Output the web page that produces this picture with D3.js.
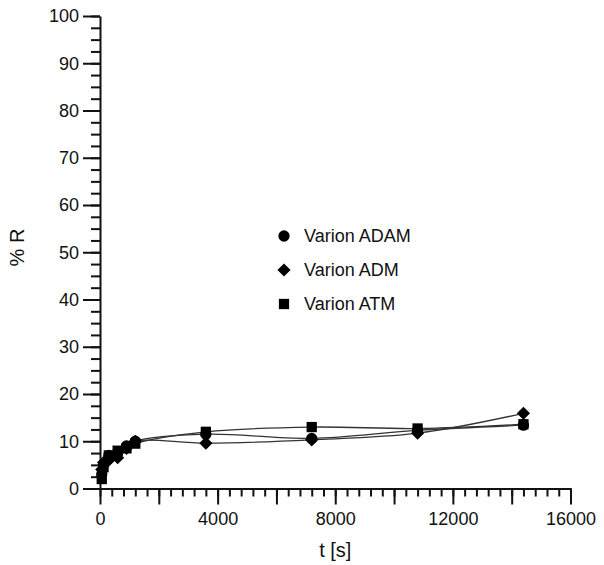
<!DOCTYPE html>
<html>
<head>
<meta charset="utf-8">
<script src="https://cdn.jsdelivr.net/npm/d3@7"></script>
<style>
  body { margin: 0; background: #fff; }
  svg { font-family: "Liberation Sans", Arial, sans-serif; }
</style>
</head>
<body>
<div id="chart"></div>
<script>
// data
const times = [60, 120, 300, 600, 900, 1200, 3600, 7200, 10800, 14400];
const adam = [3.0, 5.0, 7.0, 7.5, 9.0, 10.0, 11.5, 10.6, 12.3, 13.4];
const adm = [4.0, 5.5, 6.0, 6.5, 8.5, 10.0, 9.6, 10.3, 11.7, 15.9];
const atm = [2.0, 4.5, 7.0, 8.0, 8.5, 9.5, 12.0, 13.0, 12.7, 13.6];
const seriesNames = ["Varion ADAM", "Varion ADM", "Varion ATM"];
const xLabelTicks = [0, 4000, 8000, 12000, 16000];
const yLabelTicks = [0, 10, 20, 30, 40, 50, 60, 70, 80, 90, 100];

const width = 604, height = 565;

const svg = d3.select("#chart")
    .append("svg")
    .attr("width", width)
    .attr("height", height);

const x = d3.scaleLinear().domain([0, 16000]).range([100, 570.5]);
const y = d3.scaleLinear().domain([0, 100]).range([488.5, 16]);

// X axis: minor ticks every 400, major every 2000, labels every 4000
svg.append("g")
    .attr("transform", `translate(0,${y(0)})`)
    .call(d3.axisBottom(x).tickValues(d3.range(0, 16001, 400)).tickSize(8).tickFormat(""))
    .call(g => g.select(".domain").remove());
svg.append("g")
    .attr("transform", `translate(0,${y(0)})`)
    .call(d3.axisBottom(x).tickValues(d3.range(0, 16001, 2000)).tickSize(16).tickSizeOuter(0)
        .tickPadding(8)
        .tickFormat(d => xLabelTicks.includes(d) ? d : ""));

// Y axis: minor ticks every 2.5, major every 10
svg.append("g")
    .attr("transform", `translate(${x(0)},0)`)
    .call(d3.axisLeft(y).tickValues(d3.range(0, 100.1, 2.5)).tickSize(9).tickFormat(""))
    .call(g => g.select(".domain").remove());
svg.append("g")
    .attr("transform", `translate(${x(0)},0)`)
    .call(d3.axisLeft(y).tickValues(yLabelTicks).tickSize(17).tickSizeOuter(0).tickPadding(4));

svg.selectAll(".tick line, .domain")
    .attr("stroke", "#111")
    .attr("stroke-width", 2);
svg.selectAll(".tick text")
    .attr("fill", "#111")
    .style("font-size", "18px");

// axis titles
svg.append("text")
    .attr("x", x(8000))
    .attr("y", 557)
    .attr("text-anchor", "middle")
    .style("font-size", "20px")
    .attr("fill", "#111")
    .text("t [s]");

svg.append("text")
    .attr("transform", `translate(24,${y(51)}) rotate(-90)`)
    .attr("text-anchor", "middle")
    .style("font-size", "20px")
    .attr("fill", "#111")
    .text("% R");

// lines
const series = [adam, adm, atm];
const line = d3.line()
    .x((d, i) => x(times[i]))
    .y(d => y(d))
    .curve(d3.curveCatmullRom.alpha(0.5));

series.forEach(vals => {
    svg.append("path")
        .datum(vals)
        .attr("fill", "none")
        .attr("stroke", "#333")
        .attr("stroke-width", 1.3)
        .attr("d", line);
});

// markers
const symbols = [d3.symbolCircle, d3.symbolDiamond2, d3.symbolSquare2];
const sizes = [100, 110, 135];

series.forEach((vals, s) => {
    svg.append("g")
        .selectAll("path")
        .data(vals)
        .enter()
        .append("path")
        .attr("transform", (d, i) => `translate(${x(times[i])},${y(d)})`)
        .attr("d", d3.symbol().type(symbols[s]).size(sizes[s])())
        .attr("fill", "#000");
});

// legend
const legend = svg.append("g");
seriesNames.forEach((name, s) => {
    const ly = 236 + s * 34;
    legend.append("path")
        .attr("transform", `translate(284,${ly})`)
        .attr("d", d3.symbol().type(symbols[s]).size(sizes[s])())
        .attr("fill", "#000");
    legend.append("text")
        .attr("x", 304)
        .attr("y", ly)
        .attr("dy", "0.35em")
        .style("font-size", "18px")
        .attr("fill", "#111")
        .text(name);
});
</script>
</body>
</html>
